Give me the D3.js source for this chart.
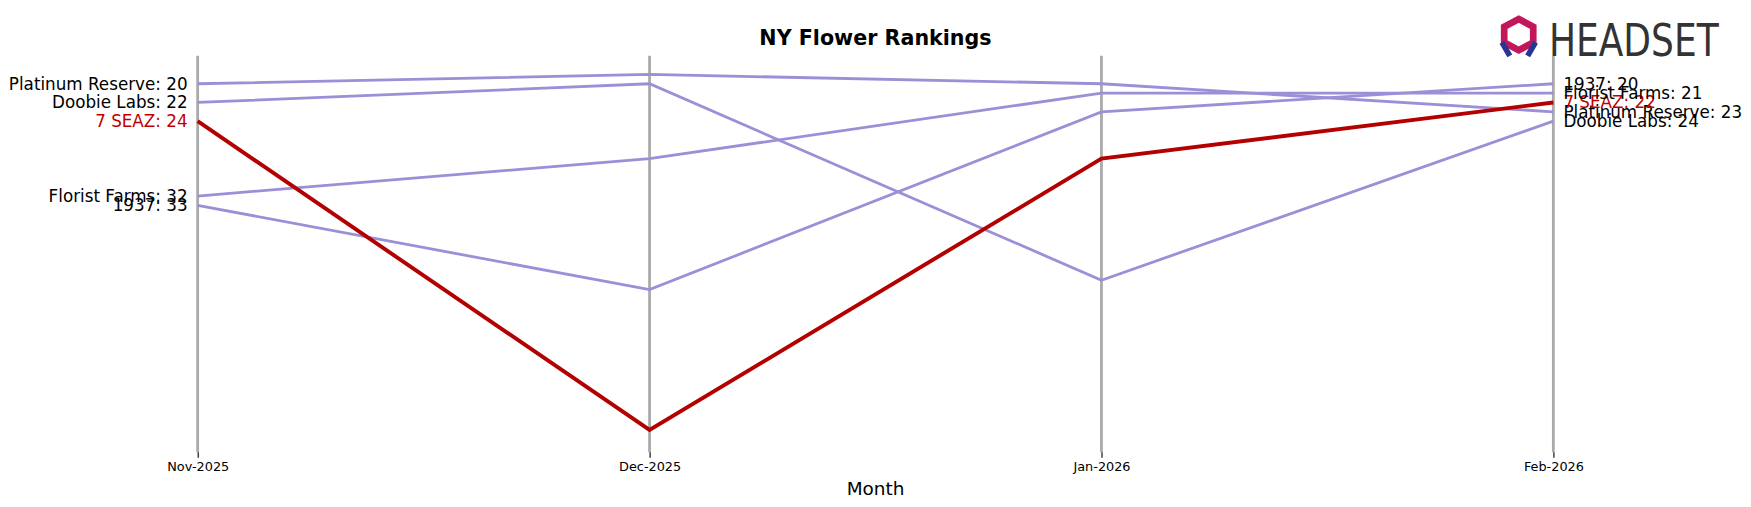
<!DOCTYPE html><html><head><script src="https://cdn.jsdelivr.net/npm/d3@7"></script>
<style>body{margin:0;background:#fff}svg{display:block}</style></head><body><svg id="c" width="1751" height="507" viewBox="0 0 1568 454"></svg>
<script>
const months=["Nov-2025","Dec-2025","Jan-2026","Feb-2026"];
const brands=["Platinum Reserve","Doobie Labs","7 SEAZ","Florist Farms","1937"];
const ranks={"Platinum Reserve":[20,19,20,23],"Doobie Labs":[22,20,41,24],"7 SEAZ":[24,57,28,22],"Florist Farms":[32,28,21,21],"1937":[33,42,23,20]};
const highlight="7 SEAZ";
const svg=d3.select("#c");
const x=d3.scalePoint().domain(months).range([177,1391]);
const y=d3.scaleLinear().domain([20,57]).range([75,385]);
months.forEach(m=>{svg.append("line").attr("x1",x(m)).attr("x2",x(m)).attr("y1",50).attr("y2",405).attr("stroke","#aaa").attr("stroke-width",2.5);});
const ax=svg.append("g").attr("transform","translate(0,405)").call(d3.axisBottom(x).tickSize(5).tickPadding(4));
ax.select(".domain").remove();
ax.selectAll("text").attr("font-family","DejaVu Sans").attr("font-size",11.5).attr("fill","#000");
const line=d3.line().x((d,i)=>x(months[i])).y(d=>y(d));
brands.filter(b=>b!==highlight).concat([highlight]).forEach(b=>{
 const h=b===highlight;
 svg.append("path").attr("d",line(ranks[b])).attr("fill","none").attr("stroke",h?"#b30000":"#9b8fd8").attr("stroke-width",h?3.5:2.5);
});
brands.forEach(b=>{
 const h=b===highlight, v=ranks[b];
 svg.append("text").attr("x",168).attr("y",y(v[0])).attr("dy","0.35em").attr("text-anchor","end").attr("font-family","DejaVu Sans").attr("font-size",15).attr("fill",h?"#c00000":"#000").text(b+": "+v[0]);
 svg.append("text").attr("x",1400).attr("y",y(v[3])).attr("dy","0.35em").attr("font-family","DejaVu Sans").attr("font-size",15).attr("fill",h?"#c00000":"#000").text(b+": "+v[3]);
});
svg.append("text").attr("x",784).attr("y",40).attr("text-anchor","middle").attr("font-family","DejaVu Sans").attr("font-weight","bold").attr("font-size",18.5).text("NY Flower Rankings");
svg.append("text").attr("x",784).attr("y",443).attr("text-anchor","middle").attr("font-family","DejaVu Sans").attr("font-size",16.5).text("Month");
const lg=svg.append("g").attr("transform","translate(1360,32)");
lg.append("path").attr("d","M0,-15 L13,-8 L13,6 L0,13 L-13,6 L-13,-8 Z").attr("fill","none").attr("stroke","#c2185b").attr("stroke-width",6);
lg.append("path").attr("d","M-15,6 L-8,18 M15,6 L8,18").attr("stroke","#283593").attr("stroke-width",5);
svg.append("text").attr("x",1387).attr("y",50).attr("font-family","Liberation Sans Narrow, DejaVu Sans Condensed, sans-serif").attr("font-size",40).attr("fill","#333").attr("textLength",152).attr("lengthAdjust","spacingAndGlyphs").text("HEADSET");
</script></body></html>
